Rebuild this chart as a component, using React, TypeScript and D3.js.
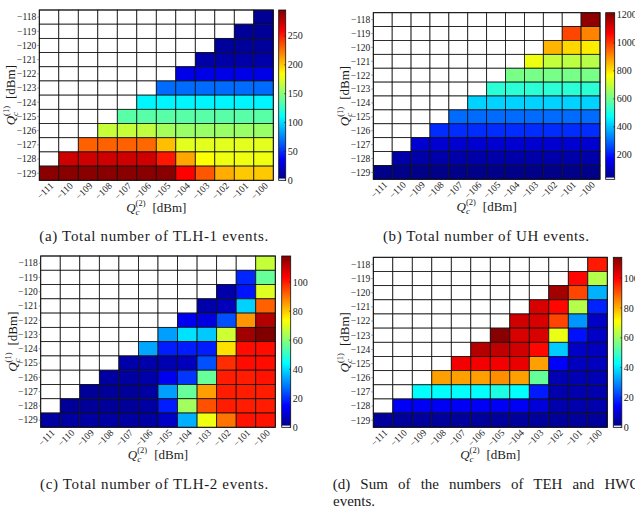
import React from 'react';
import * as d3 from 'd3';

// grid levels (rows top to bottom, columns left to right)
const q1Levels = [-118, -119, -120, -121, -122, -123, -124, -125, -126, -127, -128, -129];
const q2Levels = [-111, -110, -109, -108, -107, -106, -105, -104, -103, -102, -101, -100];

// every row only lists its filled cells, the last one is Q2 = -100
const tlh1Rows = [
  [6],
  [7, 7],
  [8, 8, 8],
  [12, 12, 12, 12],
  [30, 30, 30, 30, 30],
  [68, 68, 68, 68, 68, 68],
  [108, 108, 108, 108, 108, 108, 108],
  [136, 136, 136, 136, 136, 136, 136, 136],
  [168, 168, 166, 158, 155, 155, 155, 155, 155],
  [230, 230, 230, 228, 203, 176, 176, 176, 176, 176],
  [272, 272, 272, 272, 272, 252, 210, 184, 180, 180, 180],
  [292, 292, 292, 292, 292, 292, 292, 258, 233, 208, 200, 200],
];

const uhRows = [
  [1195],
  [985, 915],
  [855, 815, 790],
  [750, 700, 690, 685],
  [610, 610, 610, 610, 610],
  [520, 520, 520, 520, 520, 520],
  [420, 420, 420, 420, 420, 420, 420],
  [300, 300, 300, 300, 300, 300, 300, 300],
  [225, 225, 225, 225, 225, 225, 225, 225, 225],
  [120, 120, 120, 120, 120, 120, 120, 120, 120, 120],
  [75, 75, 75, 75, 75, 75, 75, 75, 75, 75, 75],
  [35, 35, 35, 35, 35, 35, 35, 35, 35, 35, 35, 35],
];

const tlh2Rows = [
  [67],
  [19, 56],
  [5, 17, 70],
  [5, 7, 39, 92],
  [13, 11, 24, 86, 112],
  [33, 41, 38, 68, 114, 118],
  [34, 18, 18, 18, 77, 102, 102],
  [5, 5, 6, 7, 24, 98, 102, 102],
  [4, 4, 5, 13, 21, 56, 100, 100, 101],
  [3, 3, 3, 4, 33, 56, 85, 100, 100, 100],
  [3, 3, 3, 3, 4, 18, 63, 94, 100, 100, 100],
  [4, 4, 4, 4, 4, 4, 8, 35, 72, 90, 101, 101],
];

const tehHwcRows = [
  [97],
  [99, 63],
  [110, 92, 34],
  [104, 99, 63, 18],
  [105, 104, 92, 31, 8],
  [113, 104, 104, 69, 16, 8],
  [108, 107, 105, 99, 37, 8, 7],
  [101, 101, 101, 102, 82, 14, 7, 7],
  [82, 82, 82, 84, 82, 54, 6, 6, 6],
  [43, 43, 43, 43, 46, 43, 17, 5, 5, 5],
  [13, 13, 13, 13, 13, 13, 13, 10, 5, 5, 5],
  [3, 3, 3, 3, 3, 3, 3, 3, 3, 3, 3, 3],
];

const tlh1Ticks = [0, 50, 100, 150, 200, 250];
const uhTicks = [200, 400, 600, 800, 1000, 1200];
const tlh2Ticks = [0, 20, 40, 60, 80, 100];
const tehHwcTicks = [0, 20, 40, 60, 80, 100];

const captionA = '(a) Total number of TLH-1 events.';
const captionB = '(b) Total number of UH events.';
const captionC = '(c) Total number of TLH-2 events.';
const captionD1 = '(d) Sum of the numbers of TEH and HWC';
const captionD2 = 'events.';

const jetStops: [number, string][] = [
  [0, '#000080'], [0.125, '#0000ff'], [0.375, '#00ffff'],
  [0.625, '#ffff00'], [0.875, '#ff0000'], [1, '#800000'],
];

const clamp = (v: number) => Math.max(0, Math.min(1, v));
const jet = (t: number) => {
  const r = clamp(1.5 - Math.abs(4 * t - 3));
  const g = clamp(1.5 - Math.abs(4 * t - 2));
  const b = clamp(1.5 - Math.abs(4 * t - 1));
  return d3.rgb(r * 255, g * 255, b * 255).formatHex();
};

const padRow = (row: number[]) => [...Array(12 - row.length).fill(null), ...row];

const ink = '#1a1a1a';

type Frame = { left: number; right: number; top: number; bottom: number; barLeft: number; barWidth: number };

function QLabel({ idx, x, y, vertical }: { idx: number; x: number; y: number; vertical?: boolean }) {
  return (
    <text transform={`translate(${x},${y})${vertical ? ' rotate(-90)' : ''}`} textAnchor="middle" fontSize={13} fill={ink}>
      <tspan fontStyle="italic">Q</tspan>
      <tspan fontStyle="italic" fontSize={9} dy={3}>c</tspan>
      <tspan fontSize={8.5} dx={-4} dy={-9}>({idx})</tspan>
      <tspan dx={7} dy={6}>[dBm]</tspan>
    </text>
  );
}

function Panel({ rows, lo, hi, ticks, f }: { rows: number[][]; lo: number; hi: number; ticks: number[]; f: Frame }) {
  const x = d3.scaleBand<number>().domain(q2Levels).range([f.left, f.right]);
  const y = d3.scaleBand<number>().domain(q1Levels).range([f.top, f.bottom]);
  const c = d3.scaleLinear().domain([lo, hi]).range([f.bottom, f.top]);
  const grid = rows.map(padRow);
  const barRight = f.barLeft + f.barWidth;
  const whiteH = (f.bottom - f.top) / 100;
  return (
    <g>
      {grid.map((row, i) =>
        row.map((v, j) => (
          <rect
            key={`${i}-${j}`}
            x={x(q2Levels[j])}
            y={y(q1Levels[i])}
            width={x.bandwidth()}
            height={y.bandwidth()}
            fill={v == null ? '#ffffff' : jet((v - lo) / (hi - lo))}
            stroke="#111"
            strokeWidth={0.8}
          />
        ))
      )}
      <rect x={f.left} y={f.top} width={f.right - f.left} height={f.bottom - f.top} fill="none" stroke="#111" strokeWidth={0.9} />
      {q1Levels.map((q) => (
        <g key={q}>
          <line x1={f.left - 2} x2={f.left} y1={y(q)! + y.bandwidth() / 2} y2={y(q)! + y.bandwidth() / 2} stroke="#555" strokeWidth={0.6} />
          <text x={f.left - 3} y={y(q)! + y.bandwidth() / 2} dy="0.35em" textAnchor="end" fontSize={9.5} fill={ink}>
            {`\u2212${Math.abs(q)}`}
          </text>
        </g>
      ))}
      {q2Levels.map((q) => (
        <text
          key={q}
          transform={`translate(${x(q)! + x.bandwidth() / 2 + 5},${f.bottom + 6}) rotate(-45)`}
          textAnchor="end"
          fontSize={9.5}
          fill={ink}
        >
          {`\u2212${Math.abs(q)}`}
        </text>
      ))}
      <QLabel idx={1} x={f.left - 24} y={(f.top + f.bottom) / 2} vertical />
      <QLabel idx={2} x={(f.left + f.right) / 2} y={f.bottom + 32} />
      <rect x={f.barLeft} y={f.top} width={f.barWidth} height={f.bottom - f.top} fill="url(#jetBar)" />
      <rect x={f.barLeft} y={f.bottom - whiteH} width={f.barWidth} height={whiteH} fill="#fff" />
      <rect x={f.barLeft} y={f.top} width={f.barWidth} height={f.bottom - f.top} fill="none" stroke="#111" strokeWidth={0.8} />
      {ticks.map((t) => (
        <g key={t}>
          <line x1={barRight - 1.5} x2={barRight} y1={c(t)} y2={c(t)} stroke="#111" strokeWidth={0.6} />
          <text x={barRight + 2} y={c(t)} dy="0.35em" fontSize={10} fill={ink}>
            {t}
          </text>
        </g>
      ))}
    </g>
  );
}

const frameA: Frame = { left: 39.3, right: 273.3, top: 10, bottom: 180.3, barLeft: 278.7, barWidth: 7 };
const frameB: Frame = { left: 373.3, right: 600, top: 12.7, bottom: 179.3, barLeft: 605.7, barWidth: 9 };
const frameC: Frame = { left: 40.7, right: 275.3, top: 256, bottom: 427.3, barLeft: 281.7, barWidth: 9 };
const frameD: Frame = { left: 373.3, right: 607.3, top: 257.3, bottom: 427.3, barLeft: 613.3, barWidth: 8.5 };

export default function App() {
  return (
    <svg
      width={635}
      height={530}
      style={{ position: 'absolute', left: 0, top: 0, background: '#fff' }}
      fontFamily="'Liberation Serif', 'Times New Roman', serif"
    >
      <defs>
        <linearGradient id="jetBar" x1="0" y1="1" x2="0" y2="0">
          {jetStops.map(([o, col]) => (
            <stop key={o} offset={o} stopColor={col} />
          ))}
        </linearGradient>
      </defs>
      <Panel rows={tlh1Rows} lo={0} hi={295} ticks={tlh1Ticks} f={frameA} />
      <Panel rows={uhRows} lo={25} hi={1215} ticks={uhTicks} f={frameB} />
      <Panel rows={tlh2Rows} lo={0} hi={118} ticks={tlh2Ticks} f={frameC} />
      <Panel rows={tehHwcRows} lo={0} hi={114} ticks={tehHwcTicks} f={frameD} />
      <g fontSize={15} fill={ink}>
        <text x={39.3} y={241} textLength={229} lengthAdjust="spacing">{captionA}</text>
        <text x={383} y={241} textLength={206} lengthAdjust="spacing">{captionB}</text>
        <text x={40} y={489} textLength={228.3} lengthAdjust="spacing">{captionC}</text>
        <text x={332.7} y={489} style={{ wordSpacing: '6.4px' }}>{captionD1}</text>
        <text x={333} y={505.7}>{captionD2}</text>
      </g>
    </svg>
  );
}
